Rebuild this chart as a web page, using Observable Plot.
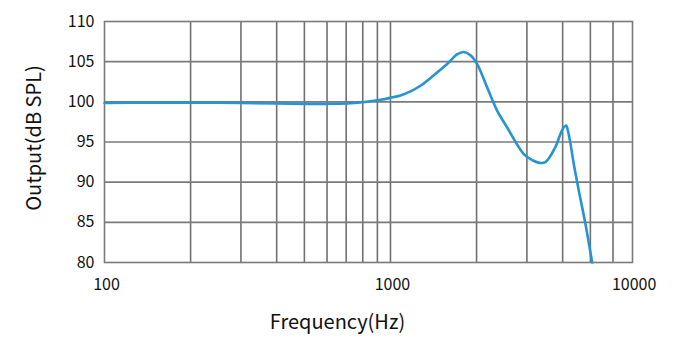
<!DOCTYPE html>
<html>
<head>
<meta charset="utf-8">
<script src="https://cdn.jsdelivr.net/npm/d3@7"></script>
<script src="https://cdn.jsdelivr.net/npm/@observablehq/plot@0.6"></script>
<style>
  html, body { margin: 0; padding: 0; background: #fff; }
  svg { display: block; }
</style>
</head>
<body>
<div id="chart"></div>
<script>
// Frequency response curve (Hz, dB SPL)
const freqs = [100, 150, 200, 300, 400, 500, 600, 700, 800, 923, 1000, 1084, 1175, 1273, 1417, 1578, 1710, 1804, 1904, 2010, 2178, 2237, 2360, 2559, 2925, 3150, 3319, 3483, 3776, 3930, 4030, 4115, 4180, 4260, 4374, 4553, 4806, 5073];
const dbSpl = [99.85, 99.9, 99.9, 99.85, 99.8, 99.75, 99.75, 99.8, 99.95, 100.25, 100.5, 100.8, 101.3, 102.0, 103.3, 104.7, 105.9, 106.2, 105.8, 104.7, 101.8, 100.8, 98.9, 96.8, 93.5, 92.7, 92.4, 92.5, 94.4, 96.0, 96.8, 97.05, 96.3, 94.8, 92.3, 89.0, 84.8, 80.0];

// Axis / grid values
const xDomain = [100, 7020];
const yDomain = [80, 110];
const xGrid = [200, 300, 400, 500, 600, 700, 800, 900, 1000, 2000, 3000, 4000, 5000, 6000];
const yGrid = [85, 90, 95, 100, 105];
const xTickValues = [100, 1000, 7000];
const xTickLabels = ["100", "1000", "10000"];
const yTickValues = [80, 85, 90, 95, 100, 105, 110];

const data = freqs.map((f, i) => ({f, db: dbSpl[i]}));
const xTicks = xTickValues.map((v, i) => ({v, label: xTickLabels[i]}));

const chart = Plot.plot({
  width: 686,
  height: 363,
  marginLeft: 104,
  marginRight: 54,
  marginTop: 21,
  marginBottom: 101,
  style: {fontFamily: "'Noto Sans CJK SC', 'Noto Sans', sans-serif", fontSize: "16px", color: "#222", background: "#fff"},
  x: {type: "log", domain: xDomain},
  y: {domain: yDomain},
  marks: [
    Plot.ruleX(xGrid, {stroke: "#707070", strokeWidth: 1.6}),
    Plot.ruleY(yGrid, {stroke: "#7a7a7a", strokeWidth: 1.6}),
    Plot.frame({stroke: "#7a7a7a", strokeWidth: 1.6}),
    Plot.line(data, {x: "f", y: "db", curve: "catmull-rom", stroke: "#2694d1", strokeWidth: 2.6}),
    Plot.text(xTicks, {x: "v", text: "label", frameAnchor: "bottom", dy: 27, dx: 2, fontSize: 16, fill: "#111"}),
    Plot.axisX({ticks: [], label: "Frequency(Hz)", labelAnchor: "center", labelArrow: "none", labelOffset: 66}),
    Plot.axisY({ticks: yTickValues, tickFormat: d => String(d), tickSize: 0, tickPadding: 10, fontSize: 16,
      label: "Output(dB SPL)", labelAnchor: "center", labelArrow: "none", labelOffset: 78})
  ]
});

d3.select(chart).selectAll('g[aria-label="x-axis label"] text, g[aria-label="y-axis label"] text')
  .style("font-size", "20px").attr("fill", "#111");
d3.select(chart).selectAll('g[aria-label="x-axis label"] text').attr("dx", -31);
d3.select(chart).selectAll('g[aria-label="y-axis label"] text').attr("dx", 4);
d3.select(chart).selectAll('g[aria-label="y-axis tick label"] text').attr("fill", "#111");
document.getElementById("chart").appendChild(chart);
</script>
</body>
</html>
